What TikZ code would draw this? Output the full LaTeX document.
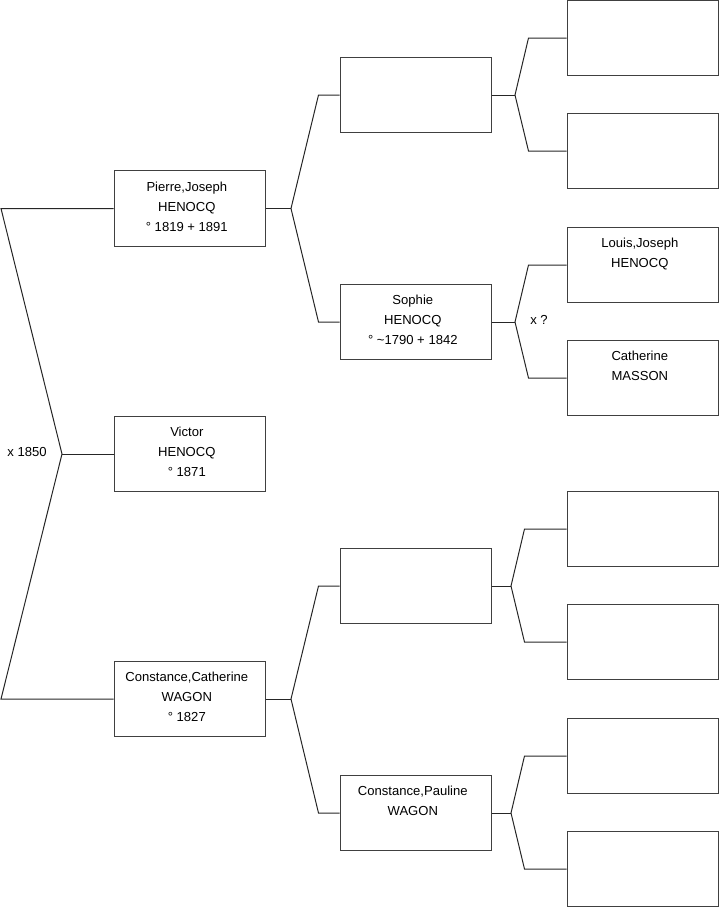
\documentclass[tikz,border=0pt]{standalone}
\usepackage{fontspec}
\setmainfont{Liberation Sans}
\usepackage{tikz}
\usetikzlibrary{calc}

\begin{document}
\begin{tikzpicture}[
  x=0.75pt, y=-0.75pt,
  font=\fontsize{9.8}{15}\selectfont,
  person/.style={draw=black!75, line width=0.75pt, minimum width=113.25pt,
                 minimum height=56.6pt, inner sep=0pt},
  who/.style={person, label={[anchor=north, yshift=-8.6pt, xshift=-2pt,
                 inner sep=0pt, align=center]north:{#1}}},
  link/.style={black!85, line width=0.75pt},
  note/.style={inner sep=1pt},
]

% --- frame of the whole sheet, in pixels of the reference
\useasboundingbox (0,0) rectangle (719,908);

% --- generation 1: the child and the two parents
\node[who={Pierre,Joseph\\HENOCQ\\° 1819 + 1891}] (pierre) at (189.5,208.5) {};
\node[who={Victor\\HENOCQ\\° 1871}] (victor) at (189.5,454) {};
\node[who={Constance,Catherine\\WAGON\\° 1827}] (constC) at (189.5,699) {};

% --- generation 2
\node[person] (gp1) at (415.5,95) {};
\node[who={Sophie\\HENOCQ\\° \textasciitilde{}1790 + 1842}] (sophie) at (415.5,322) {};
\node[person] (gm1) at (415.5,586) {};
\node[who={Constance,Pauline\\WAGON}] (constP) at (415.5,813) {};

% --- generation 3, mostly unknown
\foreach \n/\y in {pp1/38, pp2/151, mp1/529, mp2/642, mp3/756, mp4/869}
  \node[person] (\n) at (642.5,\y) {};
\node[who={Louis,Joseph\\HENOCQ}] (louis) at (642.5,265) {};
\node[who={Catherine\\MASSON}] (catherine) at (642.5,378) {};

% --- the marriage fork on the far left
\coordinate (lt) at (1,208.5);
\coordinate (lb) at (1,699);
\coordinate (fV) at (62,454);
\draw[link] (pierre.west) -- (lt) -- (fV) -- (lb) -- (constC.west);
\draw[link] (fV) -- (victor.west);
\node[note] (m1850) at (27,452) {x 1850};

% --- forks to generation 2
\coordinate (fPJ) at (291,208.5);
\coordinate (fCC) at (291,699);
\draw[link] (pierre.east) -- (fPJ);
\draw[link] (gp1.west) -- ++(-21,0) -- (fPJ) -- ($(sophie.west)+(-21,0)$) -- (sophie.west);
\draw[link] (constC.east) -- (fCC);
\draw[link] (gm1.west) -- ++(-21,0) -- (fCC) -- ($(constP.west)+(-21,0)$) -- (constP.west);

% --- forks to generation 3
\coordinate (fG1) at (515,95);
\coordinate (fSO) at (515,322);
\coordinate (fG3) at (511,586);
\coordinate (fCP) at (511,813);
\draw[link] (gp1.east) -- (fG1);
\draw[link] (pp1.west) -- ++(-38,0) -- (fG1) -- ($(pp2.west)+(-38,0)$) -- (pp2.west);
\draw[link] (sophie.east) -- (fSO);
\draw[link] (louis.west) -- ++(-38,0) -- (fSO) -- ($(catherine.west)+(-38,0)$) -- (catherine.west);
\node[note] (mq) at (539,320) {x ?};
\draw[link] (gm1.east) -- (fG3);
\draw[link] (mp1.west) -- ++(-42,0) -- (fG3) -- ($(mp2.west)+(-42,0)$) -- (mp2.west);
\draw[link] (constP.east) -- (fCP);
\draw[link] (mp3.west) -- ++(-42,0) -- (fCP) -- ($(mp4.west)+(-42,0)$) -- (mp4.west);
\end{tikzpicture}
\end{document}
